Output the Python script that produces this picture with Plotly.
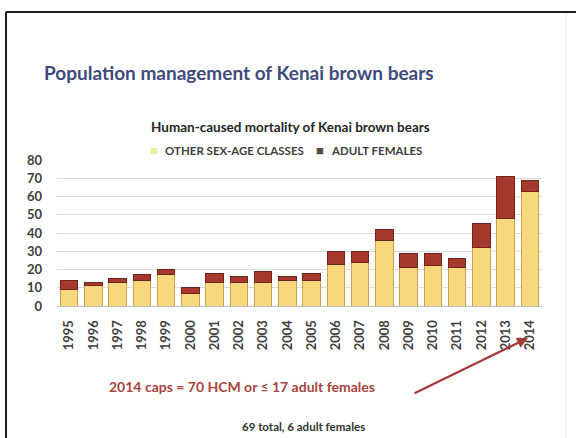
import plotly.graph_objects as go

# Human-caused mortality of Kenai brown bears, by year
years = [str(y) for y in range(1995, 2015)]
other_classes = [9, 11, 13, 14, 17, 7, 13, 13, 13, 14, 14, 23, 24, 36, 21, 22, 21, 32, 48, 63]
adult_females = [5, 2, 2, 3, 3, 3, 5, 3, 6, 2, 4, 7, 6, 6, 8, 7, 5, 13, 23, 6]
y_ticks = [0, 10, 20, 30, 40, 50, 60, 70, 80]

W, H = 576, 438
L, R, T, B = 57, 542, 160, 306  # plot area in pixels


def px(x):
    return (x - L) / (R - L)


def py(y):
    return (B - y) / (B - T)


FONT = "Lato"
YELLOW = "#F7D87C"
RED = "#A6382C"

fig = go.Figure()
fig.add_trace(go.Bar(
    x=years, y=other_classes, name="OTHER SEX-AGE CLASSES",
    marker=dict(color=YELLOW, line=dict(color="#CFA24A", width=1)),
))
fig.add_trace(go.Bar(
    x=years, y=adult_females, name="ADULT FEMALES",
    marker=dict(color=RED, line=dict(color="#74231B", width=1)),
))

annotations = [
    dict(text="<b>Population management of Kenai brown bears</b>",
         xref="paper", yref="paper", x=px(42), y=py(72), xanchor="left", yanchor="middle",
         showarrow=False, font=dict(family=FONT, size=19, color="#3E4A7C")),
    dict(text="<b>Human-caused mortality of Kenai brown bears</b>",
         xref="paper", yref="paper", x=px(290), y=py(127), xanchor="center", yanchor="middle",
         showarrow=False, font=dict(family=FONT, size=13.5, color="#262626")),
    # legend
    dict(text="■", xref="paper", yref="paper", x=px(160), y=py(150), xanchor="right", yanchor="middle",
         showarrow=False, font=dict(family=FONT, size=13, color="#E9EC9C")),
    dict(text="<b>OTHER SEX-AGE CLASSES</b>", xref="paper", yref="paper", x=px(163), y=py(150),
         xanchor="left", yanchor="middle", showarrow=False,
         font=dict(family=FONT, size=11.5, color="#404040")),
    dict(text="■", xref="paper", yref="paper", x=px(326), y=py(150), xanchor="right", yanchor="middle",
         showarrow=False, font=dict(family=FONT, size=13, color="#5A4A44")),
    dict(text="<b>ADULT FEMALES</b>", xref="paper", yref="paper", x=px(329), y=py(150),
         xanchor="left", yanchor="middle", showarrow=False,
         font=dict(family=FONT, size=11.5, color="#404040")),
    # notes below the chart
    dict(text="<b>2014 caps = 70 HCM or ≤ 17 adult females</b>",
         xref="paper", yref="paper", x=px(107), y=py(386), xanchor="left", yanchor="middle",
         showarrow=False, font=dict(family=FONT, size=14, color="#A9443C")),
    dict(text="<b>69 total, 6 adult females</b>",
         xref="paper", yref="paper", x=px(303), y=py(426), xanchor="center", yanchor="middle",
         showarrow=False, font=dict(family=FONT, size=11.5, color="#333333")),
    # arrow pointing at 2014
    dict(text="", xref="paper", yref="paper", x=px(528), y=py(338),
         ax=413 - 528, ay=394 - 338, axref="pixel", ayref="pixel",
         showarrow=True, arrowhead=2, arrowsize=1, arrowwidth=2.2, arrowcolor="#A33A35"),
]

shapes = [
    # slide frame
    dict(type="line", xref="paper", yref="paper", x0=px(6), x1=px(576), y0=py(12), y1=py(12),
         line=dict(color="#1E1E1E", width=2)),
    dict(type="line", xref="paper", yref="paper", x0=px(6), x1=px(6), y0=py(12), y1=py(438),
         line=dict(color="#1E1E1E", width=2)),
    dict(type="line", xref="paper", yref="paper", x0=px(566), x1=px(566), y0=py(14), y1=py(438),
         line=dict(color="#E4E4E4", width=1)),
]

fig.update_layout(
    width=W, height=H,
    margin=dict(l=L, r=W - R, t=T, b=H - B, pad=0),
    paper_bgcolor="white", plot_bgcolor="white",
    barmode="stack", bargap=0.28,
    showlegend=False,
    annotations=annotations,
    shapes=shapes,
    xaxis=dict(
        type="category", tickangle=-90, showgrid=False, showline=True,
        linecolor="#BFBFBF", linewidth=1, ticks="", ticklabelstandoff=8,
        tickfont=dict(family=FONT, size=13, color="#404040", weight="bold"),
    ),
    yaxis=dict(
        range=[0, 80], tickvals=y_ticks, showgrid=True, gridcolor="#DCDCDC", gridwidth=1,
        zeroline=False, showline=False, ticks="", ticklabelstandoff=14,
        tickfont=dict(family=FONT, size=13, color="#404040", weight="bold"),
    ),
)

fig.write_html("out.html")
